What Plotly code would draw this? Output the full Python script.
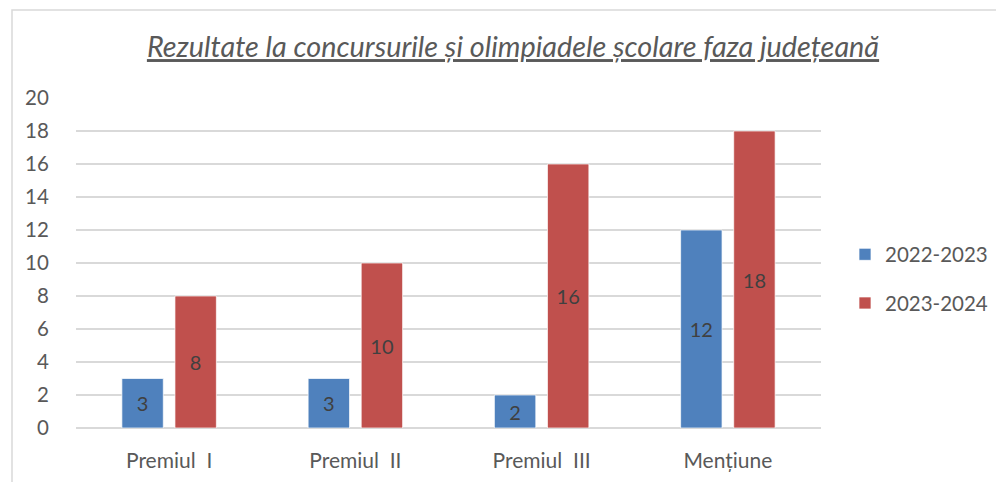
import plotly.graph_objects as go

categories = ["Premiul  I", "Premiul  II", "Premiul  III", "Mențiune"]
series_names = ["2022-2023", "2023-2024"]
values_2022 = [3, 3, 2, 12]
values_2023 = [8, 10, 16, 18]
y_ticks = [0, 2, 4, 6, 8, 10, 12, 14, 16, 18, 20]
title_text = "Rezultate la concursurile și olimpiadele școlare faza județeană"

W, H = 996, 482
L, R, T, B = 76, 175, 98, 54
pw, ph = W - L - R, H - T - B

font_fam = "Lato, Carlito, 'Open Sans', sans-serif"
grey = "#595959"

fig = go.Figure()
for name, vals, col, grp in [(series_names[0], values_2022, "#4F81BD", "a"),
                             (series_names[1], values_2023, "#C0504D", "b")]:
    fig.add_trace(go.Bar(
        x=categories, y=vals, name=name, legendgroup=grp,
        marker=dict(color=col, line=dict(color="rgba(255,255,255,0.7)", width=1)),
        text=vals, textposition="inside", insidetextanchor="middle",
        textfont=dict(family=font_fam, size=20, color="#404040"),
        textangle=0, cliponaxis=False,
    ))

fig.update_layout(
    width=W, height=H,
    margin=dict(l=L, r=R, t=T, b=B, autoexpand=False),
    paper_bgcolor="white", plot_bgcolor="white",
    barmode="group", bargap=0.43, bargroupgap=0.22,
    uniformtext=dict(mode=False),
    title=dict(text="<i><u>" + title_text + "</u></i>", x=513 / W, xanchor="center",
               y=1 - 47 / H, yanchor="middle", automargin=False,
               font=dict(family=font_fam, size=28.8, color=grey)),
    legend=dict(x=1 + (845 - (W - R)) / pw, xanchor="left", y=(428 - 279) / ph,
                yanchor="middle", font=dict(family=font_fam, size=20.5, color=grey),
                traceorder="grouped", tracegroupgap=19, itemwidth=30,
                bgcolor="rgba(0,0,0,0)"),
    font=dict(family=font_fam, color=grey),
    showlegend=True,
)
fig.update_yaxes(
    range=[0, 20], tickvals=y_ticks, showgrid=True, gridcolor="#D9D9D9", gridwidth=1.5,
    zeroline=True, zerolinecolor="#D9D9D9", zerolinewidth=1.5, showline=False,
    ticks="outside", ticklen=22, tickcolor="white", automargin=False,
    tickfont=dict(family=font_fam, size=20.5, color=grey), fixedrange=True,
)
fig.update_xaxes(
    showgrid=False, showline=False, ticks="outside", ticklen=14, tickcolor="white",
    automargin=False, fixedrange=True,
    tickfont=dict(family=font_fam, size=21, color=grey),
)

# outer chart border (light grey, top & left visible)
x0 = (12 - L) / pw
y1 = 1 + (T - 10) / ph
fig.add_shape(type="rect", xref="paper", yref="paper",
              x0=x0, x1=(W + 20 - L) / pw, y0=-(B + 20) / ph, y1=y1,
              line=dict(color="#D9D9D9", width=1.5), fillcolor="rgba(0,0,0,0)", layer="below")

fig.write_html("out.html", config={"displayModeBar": False},
               post_script="document.body.style.margin='0';document.body.style.overflow='hidden';")
